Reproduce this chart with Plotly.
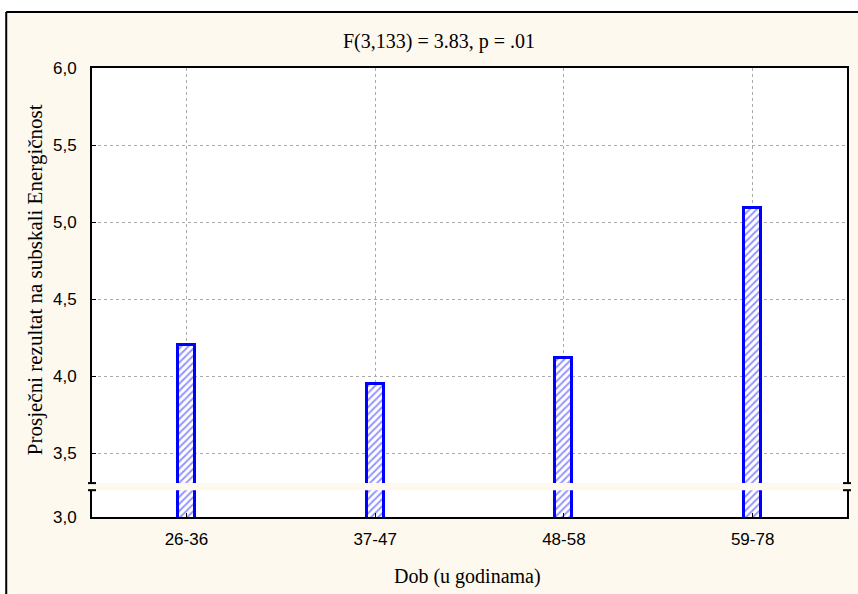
import plotly.graph_objects as go

categories = ["26-36", "37-47", "48-58", "59-78"]
means = [4.20, 3.95, 4.12, 5.09]
ytick_vals = [3.5, 4.0, 4.5, 5.0, 5.5, 6.0]
ytick_text = ["3,5", "4,0", "4,5", "5,0", "5,5", "6,0"]
y_bottom = 3.086          # compressed broken-axis bottom, labelled "3,0"
y_bottom_label = "3,0"
break_lo, break_hi = 3.26, 3.306

title_text = "F(3,133) = 3.83, p = .01"
x_title = "Dob (u godinama)"
y_title = "Prosječni rezultat na subskali Energičnost"

CREAM = "#FDF9EF"
BLUE = "#0000FF"
W, H = 858, 594
ML, MR, MT, MB = 92, 9, 68, 77
PW = W - ML - MR
PH = H - MT - MB


def px_x(p):
    return (p - ML) / PW


def px_y(p):
    return (H - MB - p) / PH


fig = go.Figure()
fig.add_trace(go.Bar(
    x=categories, y=means, width=0.09,
    marker=dict(
        color="white",
        line=dict(color=BLUE, width=3),
        pattern=dict(shape="/", fgcolor="#2a2aff", bgcolor="white", size=5, solidity=0.4),
    ),
    showlegend=False, hoverinfo="skip",
))

axis_font = dict(family="Liberation Sans, Arial, sans-serif", size=17, color="black")
serif = "Liberation Serif, Times New Roman, serif"

fig.update_layout(
    width=W, height=H,
    margin=dict(l=ML, r=MR, t=MT, b=MB, pad=0),
    paper_bgcolor=CREAM, plot_bgcolor="white",
    bargap=0,
    xaxis=dict(
        range=[-0.5, 3.5], showline=True, linecolor="black", linewidth=2, mirror=True,
        showgrid=True, gridcolor="#AAAAAA", griddash="dot", gridwidth=1,
        ticks="inside", ticklen=4, tickcolor="black", tickfont=axis_font,
        ticklabelstandoff=6, fixedrange=True,
    ),
    yaxis=dict(
        range=[y_bottom, 6.0], showline=True, linecolor="black", linewidth=2, mirror=True,
        tickvals=[y_bottom] + ytick_vals, ticktext=[y_bottom_label] + ytick_text,
        showgrid=True, gridcolor="#AAAAAA", griddash="dot", gridwidth=1,
        ticks="inside", ticklen=4, tickcolor="black", tickfont=axis_font,
        ticklabelstandoff=10, zeroline=False, fixedrange=True,
    ),
    font=dict(family=serif, color="black"),
)

shapes = []
# white strips outside the outer frame
shapes.append(dict(type="rect", xref="paper", yref="paper", x0=px_x(-5), x1=px_x(W + 5),
                   y0=px_y(12), y1=px_y(-5), fillcolor="white", line=dict(width=0), layer="above"))
shapes.append(dict(type="rect", xref="paper", yref="paper", x0=px_x(-5), x1=px_x(6),
                   y0=px_y(H + 5), y1=px_y(-5), fillcolor="white", line=dict(width=0), layer="above"))
# outer frame lines
shapes.append(dict(type="line", xref="paper", yref="paper", x0=px_x(6), x1=px_x(W + 5),
                   y0=px_y(12), y1=px_y(12), line=dict(color="black", width=2), layer="above"))
shapes.append(dict(type="line", xref="paper", yref="paper", x0=px_x(6), x1=px_x(6),
                   y0=px_y(12), y1=px_y(H + 5), line=dict(color="black", width=2), layer="above"))
# axis-break band
shapes.append(dict(type="rect", xref="paper", yref="y", x0=px_x(ML - 6), x1=px_x(W - MR + 6),
                   y0=break_lo, y1=break_hi, fillcolor=CREAM, line=dict(width=0), layer="above"))
# break tick marks on both vertical axes
for xa in (0, 1):
    for yv in (break_lo, break_hi):
        shapes.append(dict(type="line", xref="paper", yref="y", xsizemode="pixel", xanchor=xa,
                           x0=-4, x1=4, y0=yv, y1=yv, line=dict(color="black", width=2),
                           layer="above"))
fig.update_layout(shapes=shapes)

common = dict(xref="paper", yref="paper", showarrow=False, xanchor="center", yanchor="middle")
fig.add_annotation(text=title_text, x=px_x(440), y=px_y(42),
                   font=dict(family=serif, size=20, color="black"), **common)
fig.add_annotation(text=x_title, x=px_x(468), y=px_y(576),
                   font=dict(family=serif, size=20, color="black"), **common)
fig.add_annotation(text=y_title, x=px_x(35), y=px_y(280), textangle=-90,
                   font=dict(family=serif, size=21, color="black"), **common)

fig.write_html("out.html", config={"displayModeBar": False},
               post_script="document.body.style.margin='0';document.body.style.overflow='hidden';")
